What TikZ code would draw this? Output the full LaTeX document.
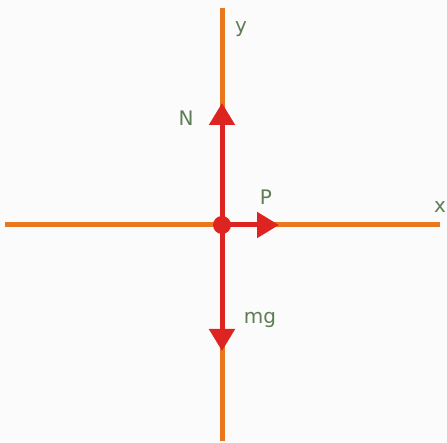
\documentclass[tikz,border=0pt]{standalone}
\usepackage{fontspec}
\setmainfont{DejaVu Sans}
\usetikzlibrary{arrows.meta}
\definecolor{axisorange}{HTML}{E8771E}
\definecolor{forcered}{HTML}{DD2420}
\definecolor{labelgreen}{HTML}{5E7D55}
\definecolor{paper}{HTML}{FBFBFB}

\begin{document}
\begin{tikzpicture}[
  x=1pt, y=-1pt,
  axis/.style={line width=5pt, color=axisorange},
  force/.style={line width=5pt, color=forcered, -{Triangle[length=22pt,width=25pt]}},
  lbl/.style={font=\fontsize{20}{22}\selectfont, text=labelgreen, inner sep=0pt}
]
\fill[paper] (0,0) rectangle (447,443);
\useasboundingbox (0,0) rectangle (447,443);

\coordinate (O) at (222,225);
\coordinate (xl) at (5,225);
\coordinate (xr) at (440,225);
\coordinate (yt) at (222,8);
\coordinate (yb) at (222,441);
\coordinate (Ntip) at (222,103);
\coordinate (Ptip) at (279,225);
\coordinate (mgtip) at (222,351);

% axes
\draw[axis] (xl) -- (xr);
\draw[axis] (yt) -- (yb);

% forces
\draw[force] (O) -- (Ntip);
\draw[force] (O) -- (Ptip);
\draw[force] (O) -- (mgtip);
\fill[forcered] (O) circle (9pt);

% labels
\node[lbl] (ylab) at (241,29) {y};
\node[lbl] (xlab) at (440,207) {x};
\node[lbl] (Nlab) at (186,118) {N};
\node[lbl] (Plab) at (266,197) {P};
\node[lbl] (mglab) at (260,320) {mg};
\end{tikzpicture}
\end{document}
